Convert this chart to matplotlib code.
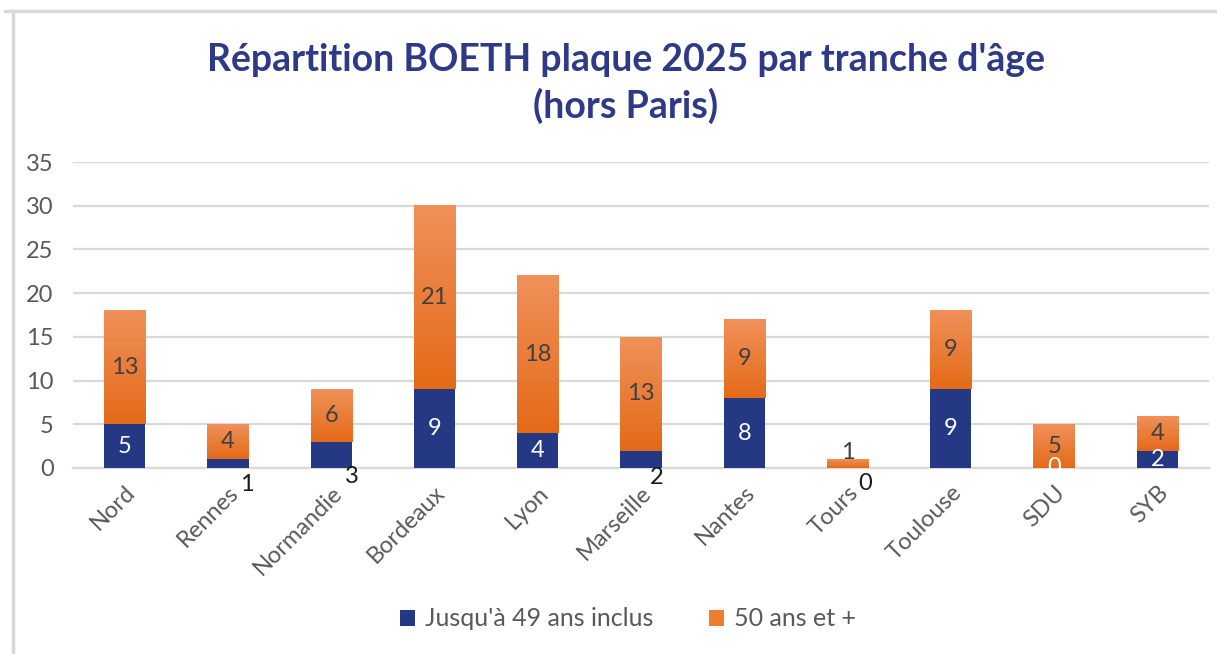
import matplotlib
matplotlib.use("Agg")
import matplotlib.pyplot as plt
import numpy as np
from matplotlib.patches import Patch
from matplotlib.lines import Line2D
from matplotlib.colors import LinearSegmentedColormap

plt.rcParams["font.family"] = ["Lato", "DejaVu Sans"]

# data
regions = ["Nord", "Rennes", "Normandie", "Bordeaux", "Lyon", "Marseille",
           "Nantes", "Tours", "Toulouse", "SDU", "SYB"]
young = [5, 1, 3, 9, 4, 2, 8, 0, 9, 0, 2]      # Jusqu'à 49 ans inclus
senior = [13, 4, 6, 21, 18, 13, 9, 1, 9, 5, 4]  # 50 ans et +
yticks = [0, 5, 10, 15, 20, 25, 30, 35]

blue = "#253884"
orange = "#EE7D31"
grey_txt = "#595959"
grid_col = "#D9D9D9"
fs = 17

W, H = 1217, 654
fig = plt.figure(figsize=(W / 100, H / 100), dpi=100)
ax = fig.add_axes([73 / W, 1 - 468 / H, (1209 - 73) / W, 306 / H])

x = np.arange(len(regions))
bw = 0.4

ax.bar(x, young, width=bw, color=blue, zorder=3)

# orange segments with a vertical gradient (light at top, darker at bottom)
grad_cmap = LinearSegmentedColormap.from_list("og", ["#E46A18", "#F0915A"])
grad = np.linspace(0, 1, 256).reshape(-1, 1)
bars_o = ax.bar(x, senior, width=bw, bottom=young, color="none", zorder=3)
for b in bars_o:
    x0, y0 = b.get_x(), b.get_y()
    w, h = b.get_width(), b.get_height()
    if h <= 0:
        continue
    ax.imshow(grad, cmap=grad_cmap, origin="lower", aspect="auto",
              extent=(x0, x0 + w, y0, y0 + h), zorder=3, interpolation="bicubic")

ax.set_xlim(-0.5, len(regions) - 0.5)
ax.set_ylim(0, 35)
ax.set_yticks(yticks)
ax.yaxis.grid(True, color=grid_col, linewidth=1.6, zorder=0)
ax.set_axisbelow(True)
for s in ["top", "right", "left"]:
    ax.spines[s].set_visible(False)
ax.spines["bottom"].set_color(grid_col)
ax.spines["bottom"].set_linewidth(1.6)
ax.tick_params(axis="both", length=0, labelsize=fs, labelcolor=grey_txt)
ax.tick_params(axis="y", pad=14)
ax.set_xticks(x)
ax.set_xticklabels(regions, rotation=45, ha="right", rotation_mode="anchor")
ax.tick_params(axis="x", pad=10)

# labels of the orange segments
for i in range(len(regions)):
    dy = 8 if senior[i] < 2 else 0
    ax.annotate(str(senior[i]), xy=(x[i], young[i] + senior[i] / 2), xytext=(0, dy),
                textcoords="offset points", ha="center", va="center",
                fontsize=fs, color="#404040", zorder=5)

# labels of the blue segments (small ones sit below the axis, as in Excel)
outside = {1: (14, -12), 2: (15, -6), 5: (11, -7), 7: (13, -11)}
for i in range(len(regions)):
    if i in outside:
        dx, dy = outside[i]
        ax.annotate(str(young[i]), xy=(x[i], 0), xytext=(dx, dy),
                    textcoords="offset points", ha="center", va="center",
                    fontsize=fs, color="#1a1a1a", annotation_clip=False, zorder=5)
    else:
        ax.text(x[i], young[i] / 2, str(young[i]), ha="center", va="center",
                fontsize=fs, color="white", zorder=5)

fig.text(626 / W, 1 - 60 / H, "Répartition BOETH plaque 2025 par tranche d'âge",
         ha="center", va="center", fontsize=27, fontweight="bold", color="#2E3A87")
fig.text(626 / W, 1 - 106 / H, "(hors Paris)",
         ha="center", va="center", fontsize=27, fontweight="bold", color="#2E3A87")

handles = [Patch(facecolor=blue, label="Jusqu'à 49 ans inclus"),
           Patch(facecolor=orange, label="50 ans et +")]
fig.legend(handles=handles, loc="center", bbox_to_anchor=(628 / W, 1 - 619 / H),
           ncol=2, frameon=False, fontsize=18, labelcolor=grey_txt,
           handlelength=0.6, handleheight=0.6, handletextpad=0.4, columnspacing=2.2)

# light frame of the chart area
fig.add_artist(Line2D([13 / W, 13 / W], [0, 1 - 11 / H], color=grid_col, linewidth=2.5))
fig.add_artist(Line2D([5 / W, 1], [1 - 11 / H, 1 - 11 / H], color=grid_col, linewidth=2.5))

fig.savefig("out.png", dpi=100)
